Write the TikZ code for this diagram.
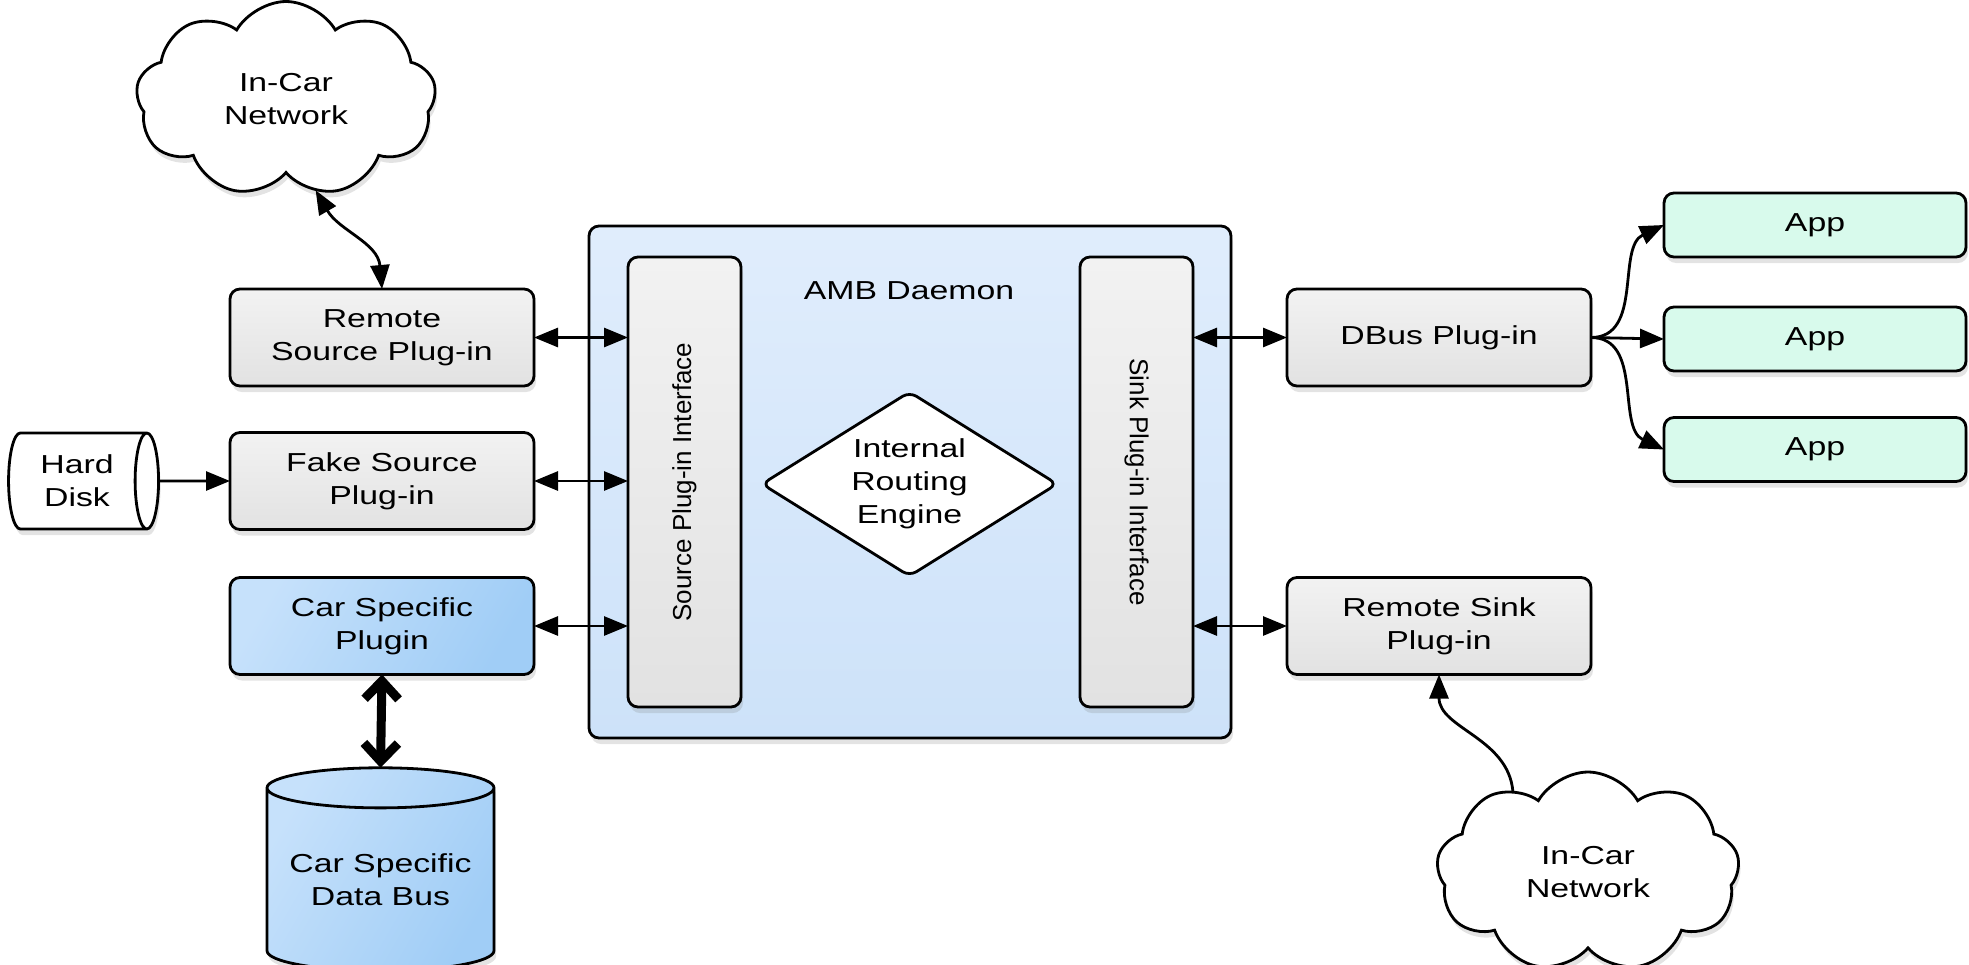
\documentclass[tikz,border=0pt]{standalone}
\usepackage{fontspec}
\setmainfont[FakeStretch=1.3]{Liberation Sans}
\newfontfamily\uprightsans{Liberation Sans}
\usetikzlibrary{shapes.geometric,shapes.symbols,shadows,arrows.meta}
\definecolor{cBoxTop}{RGB}{242,242,242}
\definecolor{cBoxBot}{RGB}{226,226,226}
\definecolor{cDaemonTop}{RGB}{224,237,252}
\definecolor{cDaemonBot}{RGB}{205,226,249}
\definecolor{cCarTop}{RGB}{198,225,251}
\definecolor{cCarBot}{RGB}{160,205,246}
\definecolor{cApp}{RGB}{216,250,236}

\begin{document}
\begin{tikzpicture}[x=0.5pt, y=-0.5pt, inner sep=0pt, outer sep=0pt,
  font=\fontsize{13}{16.5}\selectfont,
  shadowed/.style={drop shadow={opacity=0.22, shadow xshift=1pt, shadow yshift=-3pt}},
  plugin/.style={draw=black, line width=1.4pt, rounded corners=5pt, top color=cBoxTop,
    bottom color=cBoxBot, minimum width=152pt, minimum height=48.5pt, align=center, shadowed},
  carbox/.style={plugin, left color=cCarTop, right color=cCarBot, shading angle=60},
  appbox/.style={plugin, fill=cApp, top color=cApp, bottom color=cApp, minimum width=151pt,
    minimum height=32pt},
  iface/.style={plugin, minimum width=56.5pt, minimum height=225pt},
  netcloud/.style={cloud, cloud puffs=9, cloud puff arc=120, cloud ignores aspect,
    draw=black, line width=1.4pt, fill=white, align=center, shadowed},
  store/.style={cylinder, draw=black, line width=1.4pt, align=center, shadowed},
  biarrow/.style={{Triangle[length=12pt,width=9.5pt]}-{Triangle[length=12pt,width=9.5pt]},
    line width=1.4pt},
  onearrow/.style={-{Triangle[length=12pt,width=9.5pt]}, line width=1.4pt},
  fatarrow/.style={{Straight Barb[length=9pt,width=17pt]}-{Straight Barb[length=9pt,width=17pt]},
    line width=4.5pt}]
  \useasboundingbox (0,0) rectangle (1969,964);
  \clip (0,0) rectangle (1969,964);

  % daemon in the middle
  \node[plugin, top color=cDaemonTop, bottom color=cDaemonBot, minimum width=321pt,
    minimum height=256pt] (amb) at (910,482) {};
  \node (ambtitle) at (909,291) {AMB Daemon};
  \node[iface] (srcif) at (684.5,482) {\rotatebox{90}{\uprightsans Source Plug-in Interface}};
  \node[iface] (sinkif) at (1136.5,482) {\rotatebox{-90}{\uprightsans Sink Plug-in Interface}};
  \node[diamond, draw=black, line width=1.4pt, fill=white, rounded corners=4pt, aspect=1.6,
    minimum width=147.5pt, minimum height=92pt, align=center] (router) at (909.5,484)
    {Internal\\Routing\\Engine};

  % source side
  \node[netcloud, minimum width=150pt, minimum height=97.5pt] (netsrc) at (286,99)
    {In-Car\\Network};
  \node[plugin] (remsrc) at (382,337.5) {Remote\\Source Plug-in};
  \node[plugin] (fakesrc) at (382,481) {Fake Source\\Plug-in};
  \node[carbox] (carplug) at (382,626) {Car Specific\\Plugin};
  \node[store, fill=white, minimum width=48pt, minimum height=75pt, aspect=0.45]
    (disk) at (77,481) {Hard\\Disk};
  \node[store, shape border rotate=90, left color=cCarTop, right color=cCarBot,
    shading angle=60, minimum width=113.5pt, minimum height=101.5pt, aspect=0.22]
    (carbus) at (380.5,880) {Car Specific\\Data Bus};

  % sink side
  \node[plugin] (dbus) at (1439,337.5) {DBus Plug-in};
  \node[plugin] (rmsink) at (1439,626) {Remote Sink\\Plug-in};
  \node[appbox] (app1) at (1815,225) {App};
  \node[appbox] (app2) at (1815,339) {App};
  \node[appbox] (app3) at (1815,449.5) {App};
  \node[netcloud, minimum width=151.5pt, minimum height=100pt] (netsink) at (1588,872)
    {In-Car\\Network};

  % connectors
  \draw[biarrow] (netsrc.-72) to[out=-60, in=95] (remsrc.north);
  \draw[biarrow] (remsrc.east) -- (remsrc.east -| srcif.west);
  \draw[biarrow] (fakesrc.east) -- (fakesrc.east -| srcif.west);
  \draw[biarrow] (carplug.east) -- (carplug.east -| srcif.west);
  \draw[onearrow] (disk.east) -- (fakesrc.west);
  \draw[fatarrow] (carplug.south) -- (carbus.north);
  \draw[biarrow] (dbus.west) -- (dbus.west -| sinkif.east);
  \draw[biarrow] (rmsink.west) -- (rmsink.west -| sinkif.east);
  \draw[onearrow] (dbus.east) to[out=0, in=205] (app1.west);
  \draw[onearrow] (dbus.east) -- (app2.west);
  \draw[onearrow] (dbus.east) to[out=0, in=155] (app3.west);
  \draw[onearrow] (netsink.133) to[out=95, in=-90] (rmsink.south);
\end{tikzpicture}
\end{document}
